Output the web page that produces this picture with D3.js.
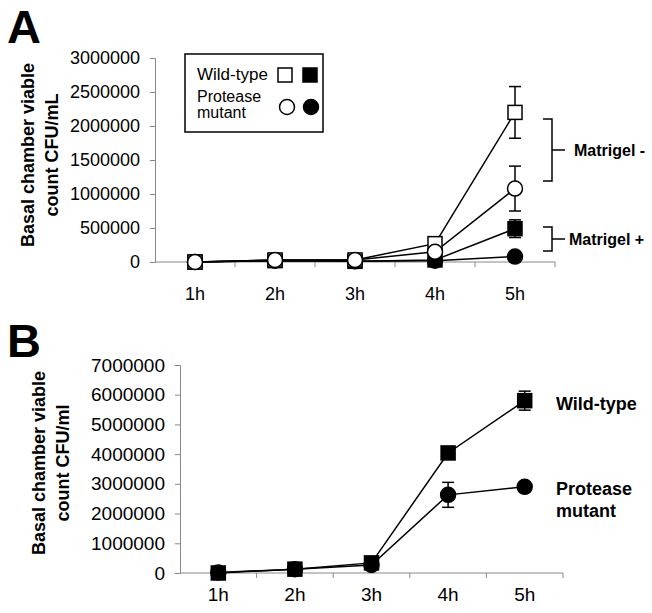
<!DOCTYPE html>
<html>
<head>
	<title>Basal chamber viable count</title>
	<script src="https://d3js.org/d3.v7.min.js" charset="utf-8"></script>
	<style>
		body { margin: 0; background: #fff; }
		text { font-family: "Liberation Sans", Arial, sans-serif; fill: #000; }
	</style>
</head>
<body>
<div id="chart"></div>
<script>
	// categories (hours)
	var hours = ["1h", "2h", "3h", "4h", "5h"];

	// panel A values (CFU/mL)
	var aWildMinus = [0, 30000, 30000, 270000, 2200000];
	var aWildMinusErr = [0, 0, 0, 0, 380000];
	var aMutMinus = [0, 30000, 30000, 150000, 1080000];
	var aMutMinusErr = [0, 0, 0, 0, 330000];
	var aWildPlus = [0, 20000, 10000, 30000, 490000];
	var aWildPlusErr = [0, 0, 0, 0, 130000];
	var aMutPlus = [0, 20000, 10000, 20000, 80000];
	var aMutPlusErr = [0, 0, 0, 0, 0];
	var aTicks = [0, 500000, 1000000, 1500000, 2000000, 2500000, 3000000];

	// panel B values (CFU/ml)
	var bWild = [0, 130000, 340000, 4040000, 5800000];
	var bWildErr = [0, 0, 0, 0, 320000];
	var bMut = [20000, 130000, 270000, 2630000, 2900000];
	var bMutErr = [0, 0, 0, 420000, 150000];
	var bTicks = [0, 1000000, 2000000, 3000000, 4000000, 5000000, 6000000, 7000000];

	var svg = d3.select("#chart").append("svg")
		.attr("width", 652)
		.attr("height", 613);

	function panel(opt) {
		var x = d3.scaleBand().domain(hours).range([opt.x0, opt.x1]);
		var y = d3.scaleLinear().domain([0, opt.ymax]).range([opt.y0, opt.y1]);
		var g = svg.append("g");
		var cx = function(h) { return x(h) + x.bandwidth() / 2; };

		// y axis
		var yAxis = d3.axisLeft(y).tickValues(opt.ticks).tickSize(5).tickPadding(10)
			.tickFormat(d3.format("d"));
		var ya = g.append("g").attr("transform", "translate(" + opt.x0 + ",0)").call(yAxis);
		ya.selectAll("path, line").attr("stroke", "#888");
		ya.selectAll("text").style("font-size", opt.tickFont + "px").attr("fill", "#000");

		// x axis: baseline + ticks between categories
		g.append("line").attr("x1", opt.x0).attr("x2", opt.x1)
			.attr("y1", y(0)).attr("y2", y(0)).attr("stroke", "#888");
		var bounds = hours.map(function(h) { return x(h); }).concat([opt.x1]);
		g.selectAll(".xt").data(bounds.slice(1)).enter().append("line")
			.attr("x1", function(d) { return d; }).attr("x2", function(d) { return d; })
			.attr("y1", y(0)).attr("y2", y(0) + 5).attr("stroke", "#888");
		g.selectAll(".xl").data(hours).enter().append("text")
			.attr("x", cx).attr("y", opt.xLabelY)
			.attr("text-anchor", "middle")
			.style("font-size", opt.tickFont + "px")
			.text(function(d) { return d; });

		// y title
		var t = g.append("text")
			.attr("transform", "translate(" + opt.titleX + "," + opt.titleY + ") rotate(-90)")
			.attr("text-anchor", "middle")
			.style("font-size", "18px").style("font-weight", "bold");
		t.append("tspan").attr("x", 0).attr("y", 0).text("Basal chamber viable");
		t.append("tspan").attr("x", 0).attr("y", 24).text(opt.unit);

		// panel letter
		g.append("text").attr("x", 7).attr("y", opt.letterY)
			.style("font-size", "47px").style("font-weight", "bold").text(opt.letter);

		var line = d3.line().x(function(d, i) { return cx(hours[i]); }).y(function(d) { return y(d); });

		opt.series.forEach(function(s) {
			g.append("path").datum(s.values).attr("d", line)
				.attr("fill", "none").attr("stroke", "#000").attr("stroke-width", 1.5);
		});
		opt.series.forEach(function(s) {
			s.err.forEach(function(e, i) {
				if (!e) return;
				var px = cx(hours[i]);
				var top = y(s.values[i] + e), bot = y(s.values[i] - e);
				g.append("line").attr("x1", px).attr("x2", px).attr("y1", top).attr("y2", bot)
					.attr("stroke", "#000").attr("stroke-width", 1.5);
				[top, bot].forEach(function(yy) {
					g.append("line").attr("x1", px - 6).attr("x2", px + 6).attr("y1", yy).attr("y2", yy)
						.attr("stroke", "#000").attr("stroke-width", 1.5);
				});
			});
		});
		opt.series.forEach(function(s) {
			s.values.forEach(function(v, i) {
				drawMarker(g, s.shape, s.fill, cx(hours[i]), y(v));
			});
		});
		return g;
	}

	function drawMarker(g, shape, fill, px, py) {
		if (shape === "square") {
			g.append("rect").attr("x", px - 7).attr("y", py - 7).attr("width", 14).attr("height", 14)
				.attr("fill", fill).attr("stroke", "#000").attr("stroke-width", 1.5);
		} else {
			g.append("circle").attr("cx", px).attr("cy", py).attr("r", 7.5)
				.attr("fill", fill).attr("stroke", "#000").attr("stroke-width", 1.5);
		}
	}

	// ---- panel A ----
	var gA = panel({
		letter: "A", letterY: 43,
		x0: 155, x1: 555, y0: 262, y1: 58, ymax: 3000000, ticks: aTicks,
		tickFont: 18, xLabelY: 300, titleX: 34, titleY: 155, unit: "count CFU/mL",
		series: [
			{ values: aMutPlus, err: aMutPlusErr, shape: "circle", fill: "#000" },
			{ values: aWildPlus, err: aWildPlusErr, shape: "square", fill: "#000" },
			{ values: aWildMinus, err: aWildMinusErr, shape: "square", fill: "#fff" },
			{ values: aMutMinus, err: aMutMinusErr, shape: "circle", fill: "#fff" }
		]
	});

	// legend
	gA.append("rect").attr("x", 185).attr("y", 54).attr("width", 138).attr("height", 78)
		.attr("fill", "#fff").attr("stroke", "#000").attr("stroke-width", 1.5);
	gA.append("text").attr("x", 197).attr("y", 80).style("font-size", "17px").text("Wild-type");
	gA.append("text").attr("x", 197).attr("y", 102).style("font-size", "16px").text("Protease");
	gA.append("text").attr("x", 197).attr("y", 118).style("font-size", "16px").text("mutant");
	drawMarker(gA, "square", "#fff", 285, 75);
	drawMarker(gA, "square", "#000", 310, 75);
	drawMarker(gA, "circle", "#fff", 287, 107);
	drawMarker(gA, "circle", "#000", 311, 107);

	// Matrigel brackets
	function bracket(yTop, yBot, label, tx) {
		var p = d3.path();
		p.moveTo(543, yTop); p.lineTo(552, yTop); p.lineTo(552, yBot); p.lineTo(543, yBot);
		p.moveTo(552, (yTop + yBot) / 2); p.lineTo(565, (yTop + yBot) / 2);
		gA.append("path").attr("d", p.toString()).attr("fill", "none")
			.attr("stroke", "#000").attr("stroke-width", 1.5);
		gA.append("text").attr("x", tx).attr("y", (yTop + yBot) / 2 + 6)
			.style("font-size", "16px").style("font-weight", "bold").text(label);
	}
	bracket(119, 181, "Matrigel -", 574);
	bracket(227, 251, "Matrigel +", 569);

	// ---- panel B ----
	var gB = panel({
		letter: "B", letterY: 357,
		x0: 180, x1: 563, y0: 573, y1: 365, ymax: 7000000, ticks: bTicks,
		tickFont: 19, xLabelY: 601, titleX: 45, titleY: 463, unit: "count CFU/ml",
		series: [
			{ values: bWild, err: bWildErr, shape: "square", fill: "#000" },
			{ values: bMut, err: bMutErr, shape: "circle", fill: "#000" }
		]
	});
	gB.append("text").attr("x", 556).attr("y", 410)
		.style("font-size", "18px").style("font-weight", "bold").text("Wild-type");
	gB.append("text").attr("x", 556).attr("y", 495)
		.style("font-size", "18px").style("font-weight", "bold").text("Protease");
	gB.append("text").attr("x", 556).attr("y", 517)
		.style("font-size", "18px").style("font-weight", "bold").text("mutant");
</script>
</body>
</html>
